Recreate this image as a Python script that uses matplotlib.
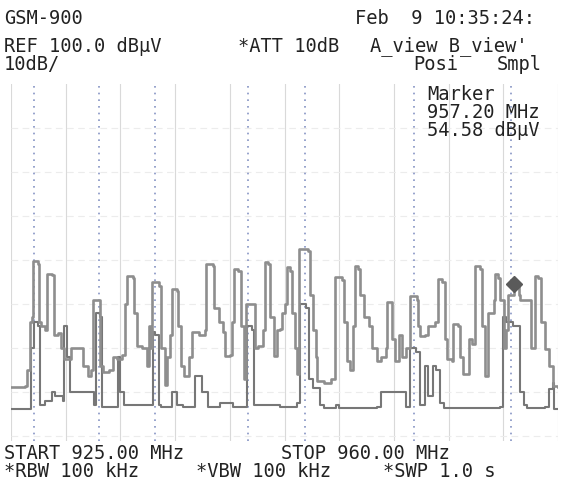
import matplotlib
matplotlib.use('Agg')
import matplotlib.pyplot as plt

# Spectrum settings
f_start = 925.0
f_stop = 960.0
ref_level = 100.0
db_per_div = 10

# Trace A (Posi, max hold) - frequency (MHz) / level (dBuV)
freq_a = [925.0, 925.9, 926.0, 926.2, 926.35, 926.4, 926.7, 926.8, 926.95, 927.2,
          927.3, 927.65, 927.75, 928.0, 928.2, 928.4, 928.7, 928.85, 929.5, 929.6,
          929.9, 930.15, 930.25, 930.6, 930.7, 930.9, 931.3, 931.5, 931.8, 932.1,
          932.3, 932.45, 932.8, 932.9, 933.05, 933.4, 933.7, 933.8, 933.95, 934.05,
          934.5, 934.6, 934.85, 935.0, 935.2, 935.3, 935.6, 935.7, 935.9, 936.1,
          936.4, 936.6, 937.0, 937.4, 937.5, 937.9, 938.0, 938.3, 938.55, 938.7,
          939.0, 939.15, 939.3, 939.55, 939.7, 939.9, 940.05, 940.5, 940.6, 940.8,
          941.1, 941.25, 941.45, 941.6, 941.85, 942.0, 942.2, 942.35, 942.5, 942.65,
          942.85, 943.0, 943.2, 943.3, 943.45, 944.0, 944.1, 944.3, 944.5, 944.6,
          945.0, 945.5, 945.7, 945.75, 946.15, 946.3, 946.5, 946.7, 946.9, 947.0,
          947.2, 947.3, 947.6, 947.9, 948.1, 948.4, 948.7, 949.0, 949.05, 949.3,
          949.4, 949.6, 949.85, 950.05, 950.3, 950.5, 950.95, 951.05, 951.2, 951.5,
          951.7, 952.1, 952.3, 952.6, 952.75, 952.9, 953.2, 953.3, 953.6, 953.7,
          953.9, 954.3, 954.5, 954.7, 955.0, 955.15, 955.3, 955.5, 955.9, 956.0,
          956.15, 956.3, 956.55, 956.7, 956.8, 957.2, 957.5, 957.6, 958.2, 958.3,
          958.5, 958.55, 958.75, 958.9, 959.2, 959.4, 959.7, 960.0]
level_a = [31.1, 31.4, 35.0, 46.0, 47.0, 59.8, 59.0, 46.0, 45.0, 44.0,
           56.8, 56.5, 43.0, 43.5, 40.0, 37.5, 37.5, 40.0, 40.0, 36.0,
           33.6, 35.0, 51.0, 51.0, 36.0, 34.5, 35.0, 38.0, 37.5, 38.5,
           50.0, 56.4, 56.0, 48.0, 40.5, 40.0, 36.0, 45.0, 40.0, 54.9,
           54.0, 40.0, 31.5, 38.0, 43.0, 53.4, 53.0, 45.0, 36.0, 33.6,
           38.0, 43.6, 43.0, 44.0, 59.1, 58.6, 49.0, 46.0, 43.6, 38.2,
           38.5, 46.0, 58.0, 57.5, 45.0, 33.0, 50.0, 50.0, 40.0, 40.5,
           44.0, 59.5, 59.0, 47.0, 38.2, 44.0, 44.3, 48.0, 50.0, 58.4,
           57.5, 48.0, 40.0, 34.0, 62.5, 62.0, 52.0, 44.0, 38.0, 32.5,
           32.0, 33.0, 36.0, 56.1, 55.5, 46.0, 37.0, 35.0, 45.0, 58.6,
           58.0, 52.0, 47.0, 45.0, 40.0, 37.0, 38.0, 40.0, 50.5, 50.5,
           42.0, 37.0, 43.0, 38.0, 40.0, 51.8, 51.0, 45.0, 42.7, 43.0,
           45.0, 46.0, 55.7, 55.0, 42.0, 37.5, 37.0, 45.5, 45.0, 38.0,
           34.0, 42.0, 41.0, 58.6, 58.0, 45.0, 33.6, 48.0, 51.0, 56.8,
           56.0, 51.0, 40.0, 44.0, 52.0, 54.58, 52.0, 51.0, 51.0, 40.0,
           45.0, 56.4, 56.0, 46.0, 39.8, 36.0, 31.4, 31.1]

# Trace B (Smpl) - frequency (MHz) / level (dBuV)
freq_b = [925.0, 926.0, 926.3, 926.45, 926.7, 926.85, 927.2, 927.6, 927.8, 928.3,
          928.4, 928.6, 928.8, 930.1, 930.3, 930.45, 930.7, 930.85, 931.8, 931.85,
          932.0, 932.2, 933.5, 934.1, 934.2, 934.5, 934.6, 935.3, 935.6, 936.0,
          936.8, 937.2, 937.6, 938.4, 939.2, 940.0, 940.1, 940.4, 940.55, 942.2,
          943.3, 943.5, 943.9, 944.05, 944.3, 944.8, 945.0, 945.8, 946.0, 948.4,
          948.7, 950.3, 950.5, 950.9, 951.2, 951.5, 951.7, 952.0, 952.2, 952.45,
          952.7, 956.3, 956.5, 956.65, 957.1, 957.6, 957.8, 958.0, 959.2, 959.4,
          959.7, 959.75, 960.0]
level_b = [26.1, 26.1, 40.0, 45.9, 45.0, 27.0, 28.0, 30.0, 29.0, 28.0,
           45.0, 38.0, 30.0, 30.0, 27.0, 48.0, 47.0, 26.5, 26.5, 38.0,
           30.0, 27.0, 27.0, 43.6, 43.0, 27.0, 26.5, 30.0, 27.0, 26.5,
           33.6, 30.0, 26.5, 27.5, 26.5, 26.5, 45.0, 44.0, 27.0, 26.5,
           27.5, 50.0, 49.0, 33.0, 31.0, 27.0, 26.3, 27.0, 26.3, 26.5,
           30.0, 26.5, 40.0, 39.0, 27.0, 36.0, 29.0, 36.0, 35.0, 27.5,
           26.3, 26.5, 47.0, 46.0, 45.0, 30.0, 27.0, 26.3, 26.5, 30.7,
           32.0, 26.1, 26.1]

# Channel markers (dotted lines), MHz
channel_lines = [926.47, 930.63, 934.21, 940.16, 943.81, 950.79, 956.99]

# Marker
marker_freq = 957.20
marker_level = 54.58

W, H = 570, 485
fig = plt.figure(figsize=(W / 100, H / 100), dpi=100)
fig.patch.set_facecolor('white')

top_px, bot_px, left_px, right_px = 85, 442, 11, 558
px_per_db = 4.4
ax = fig.add_axes([left_px / W, 1 - bot_px / H, (right_px - left_px) / W, (bot_px - top_px) / H])
ax.set_xlim(f_start, f_stop)
ax.set_ylim(ref_level - (bot_px - top_px) / px_per_db, ref_level)
for s in ax.spines.values():
    s.set_visible(False)
ax.set_xticks([])
ax.set_yticks([])

# faint graticule
div_w = (f_stop - f_start) / 10
for k in range(11):
    ax.axvline(f_start + k * div_w, color='#d9d9d9', lw=0.8, zorder=1)
for k in range(1, 9):
    ax.axhline(ref_level - k * db_per_div, color='#ececec', lw=0.8, ls=(0, (6, 4)), zorder=1)

for f in channel_lines:
    ax.axvline(f, color='#8593c4', lw=1.2, ls=(0, (1, 3)), zorder=2)

ax.plot(freq_b, level_b, color='#777777', lw=1.5, drawstyle='steps-post', zorder=3)
ax.plot(freq_a, level_a, color='#8e8e8e', lw=1.9, drawstyle='steps-post', zorder=4)
ax.plot([marker_freq], [marker_level], marker='D', color='#5a5a5a', markersize=8, zorder=5)

# screen annotations
font = dict(family='DejaVu Sans Mono', fontsize=13.5, color='#222222', va='center', ha='left')


def txt(x, y, s):
    fig.text(x / W, 1 - y / H, s, **font)


txt(4, 19, 'GSM-900')
txt(355, 19, 'Feb  9 10:35:24:')
txt(4, 46, 'REF 100.0 dB\u03bcV')
txt(238, 46, '*ATT 10dB')
txt(370, 46, "A_view B_view'")
txt(4, 65, '10dB/')
txt(413, 65, 'Posi')
txt(497, 65, 'Smpl')
txt(427, 94, 'Marker')
txt(427, 113, '957.20 MHz')
txt(427, 131, '54.58 dB\u03bcV')
txt(4, 454, 'START 925.00 MHz')
txt(281, 454, 'STOP 960.00 MHz')
txt(4, 472, '*RBW 100 kHz')
txt(196, 472, '*VBW 100 kHz')
txt(383, 472, '*SWP 1.0 s')

fig.savefig('out.png', dpi=100, facecolor='white')
